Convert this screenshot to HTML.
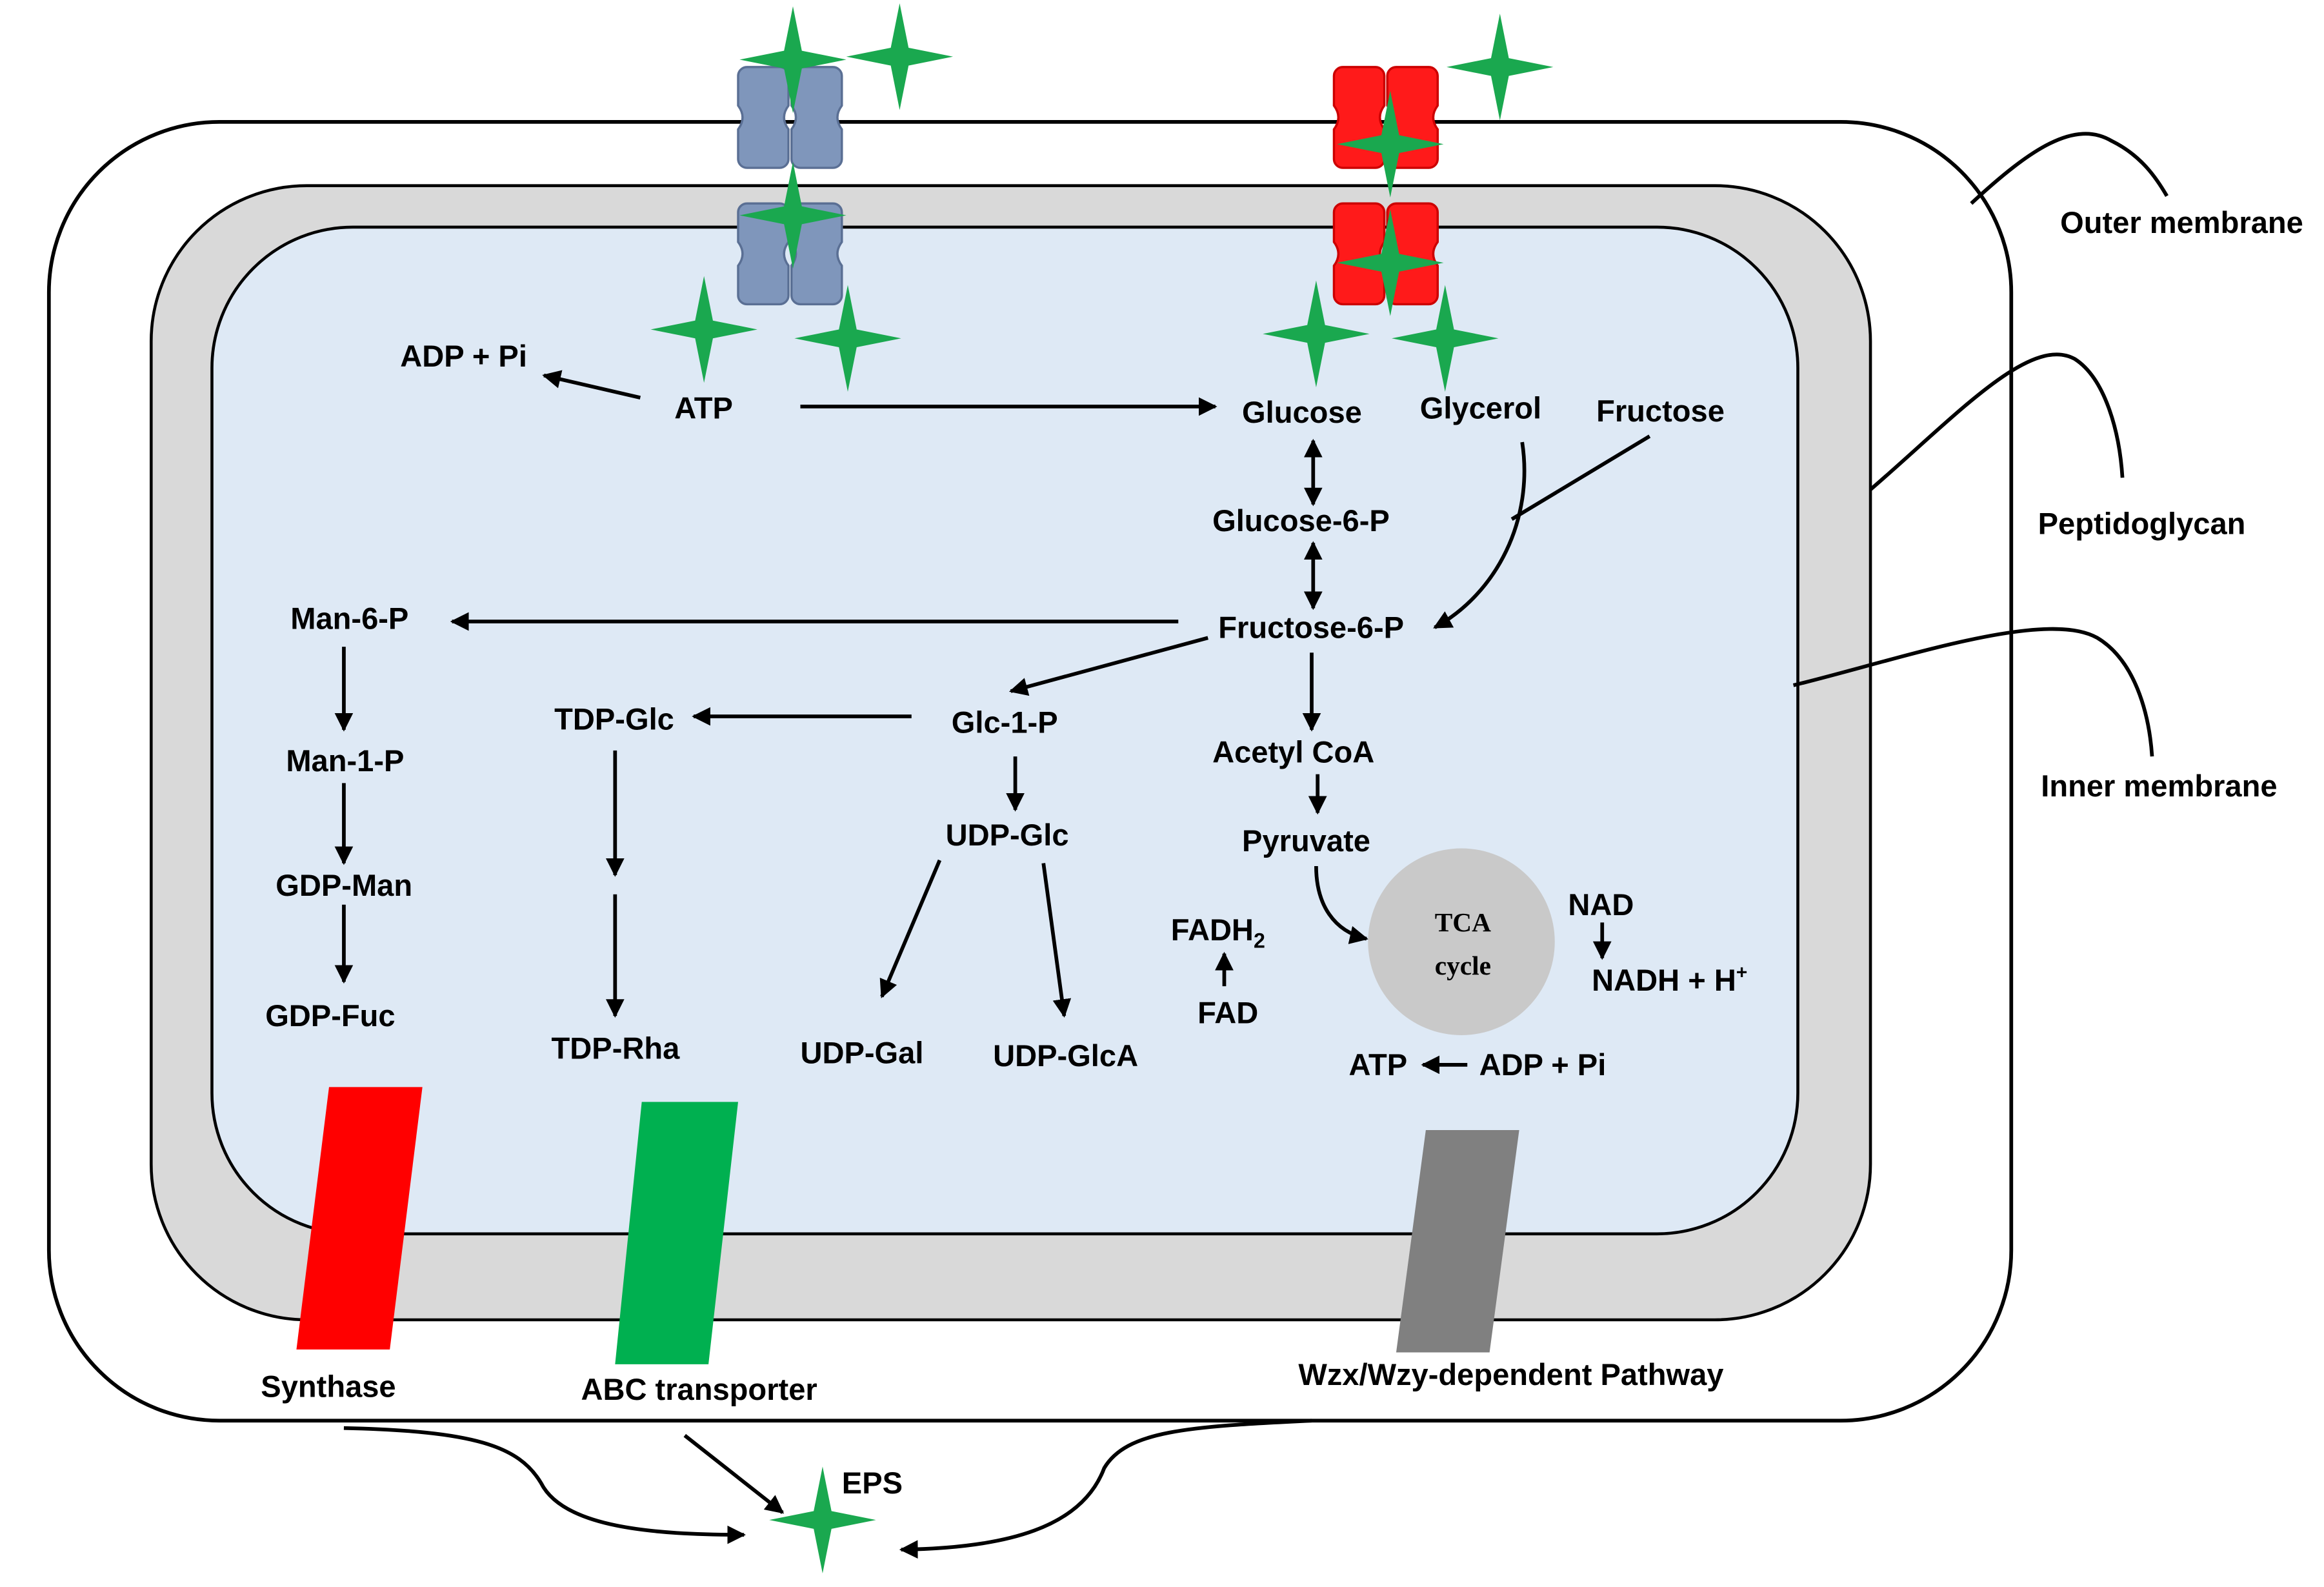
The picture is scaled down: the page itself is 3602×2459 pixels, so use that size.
<!DOCTYPE html>
<html><head><meta charset="utf-8"><style>
html,body{margin:0;padding:0;background:#fff;}
svg{display:block;}
text{font-family:"Liberation Sans",Arial,sans-serif;font-weight:bold;font-size:20.5px;fill:#000;}
</style></head><body>
<svg width="3602" height="2459" viewBox="0 0 1568 1070" xmlns="http://www.w3.org/2000/svg">
<defs>
<marker id="a" viewBox="0 0 10 10" refX="9" refY="5" markerWidth="5" markerHeight="5" orient="auto-start-reverse"><path d="M0,0 L10,5 L0,10 z" fill="#000"/></marker>
<g id="star"><path d="M0,-36 L6,-6 L36,0 L6,6 L0,36 L-6,6 L-36,0 L-6,-6 z" fill="#1aa84f"/></g>
<g id="tr"><path d="M4,0 h22 a6,6 0 0 1 6,6 v20 q-6,8 0,16 v20 a6,6 0 0 1 -6,6 h-22 a6,6 0 0 1 -6,-6 v-20 q6,-8 0,-16 v-20 a6,6 0 0 1 6,-6z"/><path d="M40,0 h22 a6,6 0 0 1 6,6 v20 q-6,8 0,16 v20 a6,6 0 0 1 -6,6 h-22 a6,6 0 0 1 -6,-6 v-20 q6,-8 0,-16 v-20 a6,6 0 0 1 6,-6z"/></g>
</defs>
<rect x="33" y="82" width="1324" height="876" rx="115" fill="#fff" stroke="#000" stroke-width="2.5"/>
<rect x="102" y="125" width="1160" height="765" rx="105" fill="#d9d9d9" stroke="#000" stroke-width="2"/>
<rect x="143" y="153" width="1070" height="679" rx="95" fill="#dee9f5" stroke="#000" stroke-width="2"/>
<g fill="none" stroke="#000" stroke-width="2.5">
<path d="M1330,137 C1370,100 1400,80 1425,95 C1445,105 1455,120 1462,132"/>
<path d="M1262,330 C1320,280 1370,225 1400,242 C1420,255 1430,290 1432,322"/>
<path d="M1210,462 C1280,445 1380,410 1415,430 C1440,445 1450,480 1452,510"/>
</g>
<text x="1390" y="157">Outer membrane</text>
<text x="1375" y="360">Peptidoglycan</text>
<text x="1377" y="537">Inner membrane</text>
<g fill="#7f96bb" stroke="#5a6f94" stroke-width="1.5"><use href="#tr" x="500" y="45"/><use href="#tr" x="500" y="137"/></g>
<g fill="#ff1a1a" stroke="#c00" stroke-width="1.5"><use href="#tr" x="902" y="45"/><use href="#tr" x="902" y="137"/></g>
<use href="#star" x="535" y="40"/><use href="#star" x="607" y="38"/><use href="#star" x="535" y="145"/>
<use href="#star" x="475" y="222"/><use href="#star" x="572" y="228"/><use href="#star" x="1012" y="45"/>
<use href="#star" x="938" y="97"/><use href="#star" x="938" y="177"/><use href="#star" x="888" y="225"/>
<use href="#star" x="975" y="228"/><use href="#star" x="555" y="1025"/>
<polygon points="222,733 285,733 263,910 200,910" fill="#ff0000"/>
<polygon points="433,743 498,743 478,920 415,920" fill="#00b050"/>
<polygon points="962,762 1025,762 1005,912 942,912" fill="#808080"/>
<circle cx="986" cy="635" r="63" fill="#c9c9c9"/>
<text x="987" y="628" text-anchor="middle" style="font-family:'Liberation Serif',serif;font-size:18px">TCA</text>
<text x="987" y="657" text-anchor="middle" style="font-family:'Liberation Serif',serif;font-size:18px">cycle</text>
<g>
<text x="270" y="247">ADP + Pi</text>
<text x="455" y="282">ATP</text>
<text x="838" y="285">Glucose</text>
<text x="958" y="282">Glycerol</text>
<text x="1077" y="284">Fructose</text>
<text x="818" y="358">Glucose-6-P</text>
<text x="822" y="430">Fructose-6-P</text>
<text x="196" y="424">Man-6-P</text>
<text x="374" y="492">TDP-Glc</text>
<text x="642" y="494">Glc-1-P</text>
<text x="818" y="514">Acetyl CoA</text>
<text x="193" y="520">Man-1-P</text>
<text x="638" y="570">UDP-Glc</text>
<text x="838" y="574">Pyruvate</text>
<text x="186" y="604">GDP-Man</text>
<text x="1058" y="617">NAD</text>
<text x="790" y="634">FADH<tspan font-size="14" dy="5">2</tspan></text>
<text x="1074" y="668">NADH + H<tspan font-size="13" dy="-8">+</tspan></text>
<text x="808" y="690">FAD</text>
<text x="179" y="692">GDP-Fuc</text>
<text x="372" y="714">TDP-Rha</text>
<text x="540" y="717">UDP-Gal</text>
<text x="670" y="719">UDP-GlcA</text>
<text x="910" y="725">ATP</text>
<text x="998" y="725">ADP + Pi</text>
<text x="176" y="942">Synthase</text>
<text x="392" y="944">ABC transporter</text>
<text x="876" y="934">Wzx/Wzy-dependent Pathway</text>
<text x="568" y="1007">EPS</text>
</g>
<g fill="none" stroke="#000" stroke-width="2.5" marker-end="url(#a)">
<line x1="432" y1="268" x2="367" y2="253"/>
<line x1="540" y1="274" x2="820" y2="274"/>
<line x1="886" y1="297" x2="886" y2="340" marker-start="url(#a)"/>
<line x1="886" y1="366" x2="886" y2="410" marker-start="url(#a)"/>
<path d="M1027,298 C1035,350 1010,400 968,423"/>
<line x1="1113" y1="294" x2="1020" y2="350" marker-end="none"/>
<line x1="795" y1="419" x2="305" y2="419"/>
<line x1="815" y1="430" x2="682" y2="466"/>
<line x1="885" y1="440" x2="885" y2="492"/>
<line x1="615" y1="483" x2="468" y2="483"/>
<line x1="232" y1="436" x2="232" y2="492"/>
<line x1="232" y1="528" x2="232" y2="582"/>
<line x1="232" y1="610" x2="232" y2="662"/>
<line x1="685" y1="510" x2="685" y2="546"/>
<line x1="415" y1="506" x2="415" y2="590"/>
<line x1="415" y1="603" x2="415" y2="685"/>
<line x1="634" y1="580" x2="595" y2="672"/>
<line x1="704" y1="582" x2="718" y2="685"/>
<line x1="889" y1="522" x2="889" y2="548"/>
<path d="M888,584 C888,610 900,628 922,633"/>
<line x1="826" y1="665" x2="826" y2="643"/>
<line x1="1081" y1="622" x2="1081" y2="646"/>
<line x1="990" y1="718" x2="960" y2="718"/>
<path d="M232,963 C320,965 350,975 365,1000 C380,1030 440,1035 502,1035"/>
<path d="M885,958 C800,962 760,965 745,990 C730,1030 680,1044 608,1045"/>
<line x1="462" y1="968" x2="528" y2="1020"/>
</g>
</svg>
</body></html>
